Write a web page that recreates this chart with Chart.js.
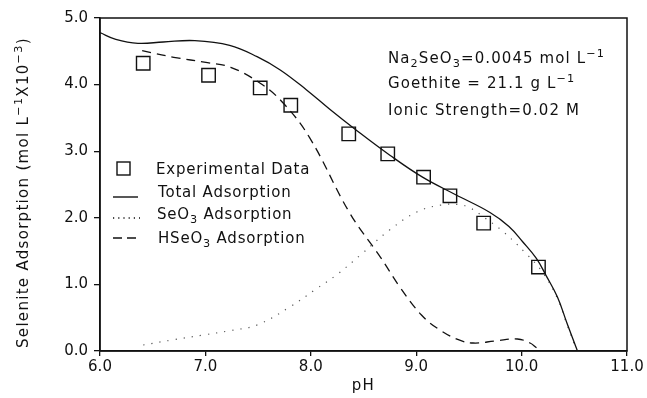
<!DOCTYPE html>
<html>
<head>
<meta charset="utf-8">
<script src="https://cdn.jsdelivr.net/npm/chart.js@4.4.1/dist/chart.umd.min.js"></script>
<style>
  html, body { margin: 0; padding: 0; background: #fff; }
  #wrap { width: 647px; height: 398px; }
</style>
</head>
<body>
<div id="wrap"><canvas id="chart" width="647" height="398"></canvas></div>
<script>
// --- DATA ---
const expPH  = [6.41, 7.03, 7.52, 7.81, 8.36, 8.73, 9.07, 9.32, 9.64, 10.16];
const expAds = [4.32, 4.14, 3.95, 3.69, 3.26, 2.96, 2.61, 2.33, 1.92, 1.26];

const totalPH  = [6.0, 6.15, 6.36, 6.6, 6.9, 7.23, 7.49, 7.71, 7.96, 8.18, 8.42, 8.75, 9.06, 9.37, 9.7, 9.88, 10.01, 10.14, 10.23, 10.34, 10.43, 10.53];
const totalAds = [4.78, 4.68, 4.62, 4.64, 4.66, 4.59, 4.42, 4.22, 3.92, 3.63, 3.33, 2.94, 2.61, 2.35, 2.08, 1.87, 1.64, 1.39, 1.14, 0.81, 0.42, 0.0];

const seo3PH  = [6.41, 6.7, 6.98, 7.25, 7.49, 7.8, 8.04, 8.25, 8.47, 8.75, 9.01, 9.23, 9.4, 9.51, 9.65, 9.82, 10.05, 10.2, 10.34, 10.43, 10.52];
const seo3Ads = [0.09, 0.17, 0.24, 0.31, 0.39, 0.66, 0.92, 1.15, 1.44, 1.82, 2.09, 2.19, 2.2, 2.15, 2.0, 1.8, 1.45, 1.18, 0.79, 0.4, 0.02];

const hseo3PH  = [6.40, 6.7, 7.02, 7.24, 7.52, 7.74, 7.99, 8.37, 8.66, 8.85, 9.05, 9.22, 9.40, 9.54, 9.75, 9.96, 10.08, 10.15, 10.2];
const hseo3Ads = [4.51, 4.41, 4.33, 4.26, 4.02, 3.72, 3.20, 2.07, 1.41, 0.95, 0.54, 0.32, 0.17, 0.12, 0.15, 0.18, 0.12, 0.04, 0.0];

const xTicks = [6, 7, 8, 9, 10, 11];
const yTicks = [0, 1, 2, 3, 4, 5];

const INK = '#111';
const FONT = '"DejaVu Sans", sans-serif';

function pairs(xs, ys) {
    return xs.map((x, i) => ({ x: x, y: ys[i] }));
}

function runSize(r, size) {
    return r.sub || r.sup ? size * 0.75 : size;
}

function measureRuns(ctx, runs, size) {
    let w = 0;
    runs.forEach(r => {
        ctx.font = runSize(r, size) + 'px ' + FONT;
        w += ctx.measureText(r.t).width;
    });
    return w;
}

// draws a line of text made of runs, some lowered (sub) or raised (sup)
function drawRuns(ctx, x, y, runs, size) {
    let cx = x;
    runs.forEach(r => {
        ctx.font = runSize(r, size) + 'px ' + FONT;
        const dy = r.sub ? 4 : (r.sup ? -6 : 0);
        ctx.fillText(r.t, cx, y + dy);
        cx += ctx.measureText(r.t).width;
    });
}

const yTitle = [{ t: 'Selenite Adsorption (mol L' }, { t: '\u22121', sup: true }, { t: 'X10' }, { t: '\u22123', sup: true }, { t: ')' }];

// frame, axis titles, in-plot legend and the condition notes
const decorations = {
    id: 'decorations',
    afterDraw(chart) {
        const ctx = chart.ctx;
        const a = chart.chartArea;
        ctx.save();
        ctx.strokeStyle = INK;
        ctx.fillStyle = INK;
        ctx.lineWidth = 1.5;
        ctx.strokeRect(a.left, a.top, a.right - a.left, a.bottom - a.top);

        ctx.textBaseline = 'alphabetic';
        ctx.textAlign = 'left';

        // axis titles
        ctx.letterSpacing = '1.3px';
        ctx.save();
        ctx.translate(28, (a.top + a.bottom) / 2 + 8);
        ctx.rotate(-Math.PI / 2);
        drawRuns(ctx, -measureRuns(ctx, yTitle, 15) / 2, 0, yTitle, 15);
        ctx.restore();
        ctx.textAlign = 'center';
        ctx.font = '15px ' + FONT;
        ctx.fillText('pH', (a.left + a.right) / 2, 390);
        ctx.textAlign = 'left';

        // legend
        ctx.letterSpacing = '0.8px';
        const lx = a.left + 13;
        ctx.lineWidth = 1.4;
        ctx.strokeRect(lx + 4, 162, 13, 13);
        drawRuns(ctx, lx + 43, 174, [{ t: 'Experimental Data' }], 15);

        ctx.beginPath(); ctx.moveTo(lx, 197); ctx.lineTo(lx + 25, 197); ctx.stroke();
        drawRuns(ctx, lx + 45, 197, [{ t: 'Total Adsorption' }], 15);

        ctx.setLineDash([1.2, 4]);
        ctx.beginPath(); ctx.moveTo(lx, 218); ctx.lineTo(lx + 27, 218); ctx.stroke();
        drawRuns(ctx, lx + 44, 219, [{ t: 'SeO' }, { t: '3', sub: true }, { t: ' Adsorption' }], 15);

        ctx.setLineDash([9, 5]);
        ctx.beginPath(); ctx.moveTo(lx, 238); ctx.lineTo(lx + 24, 238); ctx.stroke();
        ctx.setLineDash([]);
        drawRuns(ctx, lx + 45, 243, [{ t: 'HSeO' }, { t: '3', sub: true }, { t: ' Adsorption' }], 15);

        // conditions
        ctx.letterSpacing = '1.1px';
        const nx = 388;
        drawRuns(ctx, nx, 63, [{ t: 'Na' }, { t: '2', sub: true }, { t: 'SeO' }, { t: '3', sub: true },
            { t: '=0.0045 mol L' }, { t: '\u22121', sup: true }], 15);
        drawRuns(ctx, nx, 88, [{ t: 'Goethite = 21.1 g L' }, { t: '\u22121', sup: true }], 15);
        drawRuns(ctx, nx, 115, [{ t: 'Ionic Strength=0.02 M' }], 15);
        ctx.restore();
    }
};

const ctx = document.getElementById('chart').getContext('2d');
new Chart(ctx, {
    type: 'scatter',
    data: {
        datasets: [
            {
                label: 'Experimental Data',
                data: pairs(expPH, expAds),
                pointStyle: 'rect',
                pointRadius: 9.5,
                borderColor: INK,
                borderWidth: 1.4,
                backgroundColor: 'rgba(0,0,0,0)',
                showLine: false
            },
            {
                label: 'Total Adsorption',
                data: pairs(totalPH, totalAds),
                showLine: true,
                pointRadius: 0,
                borderColor: INK,
                borderWidth: 1.3,
                tension: 0.4
            },
            {
                label: 'SeO3 Adsorption',
                data: pairs(seo3PH, seo3Ads),
                showLine: true,
                pointRadius: 0,
                borderColor: '#555',
                borderWidth: 1.2,
                borderDash: [1.2, 7],
                tension: 0.4
            },
            {
                label: 'HSeO3 Adsorption',
                data: pairs(hseo3PH, hseo3Ads),
                showLine: true,
                pointRadius: 0,
                borderColor: INK,
                borderWidth: 1.3,
                borderDash: [9, 6],
                tension: 0.4
            }
        ]
    },
    options: {
        responsive: false,
        animation: false,
        devicePixelRatio: 1,
        layout: { padding: { top: 18, right: 20, bottom: 0, left: 0 } },
        plugins: {
            legend: { display: false },
            tooltip: { enabled: false }
        },
        scales: {
            x: {
                type: 'linear',
                min: 6, max: 11,
                afterBuildTicks: s => { s.ticks = xTicks.map(v => ({ value: v })); },
                afterFit: s => { s.height = 47; },
                ticks: {
                    color: INK,
                    font: { family: FONT, size: 15 },
                    padding: 2,
                    maxRotation: 0,
                    callback: v => v.toFixed(1)
                },
                grid: { drawOnChartArea: false, color: INK, tickLength: 5, lineWidth: 1.3 },
                border: { color: INK, width: 1.5 }
            },
            y: {
                type: 'linear',
                min: 0, max: 5,
                afterBuildTicks: s => { s.ticks = yTicks.map(v => ({ value: v })); },
                afterFit: s => { s.width = 100; },
                ticks: {
                    color: INK,
                    font: { family: FONT, size: 15 },
                    padding: 6,
                    callback: v => v.toFixed(1)
                },
                grid: { drawOnChartArea: false, color: INK, tickLength: 6, lineWidth: 1.3 },
                border: { color: INK, width: 1.5 }
            }
        }
    },
    plugins: [decorations]
});
</script>
</body>
</html>
